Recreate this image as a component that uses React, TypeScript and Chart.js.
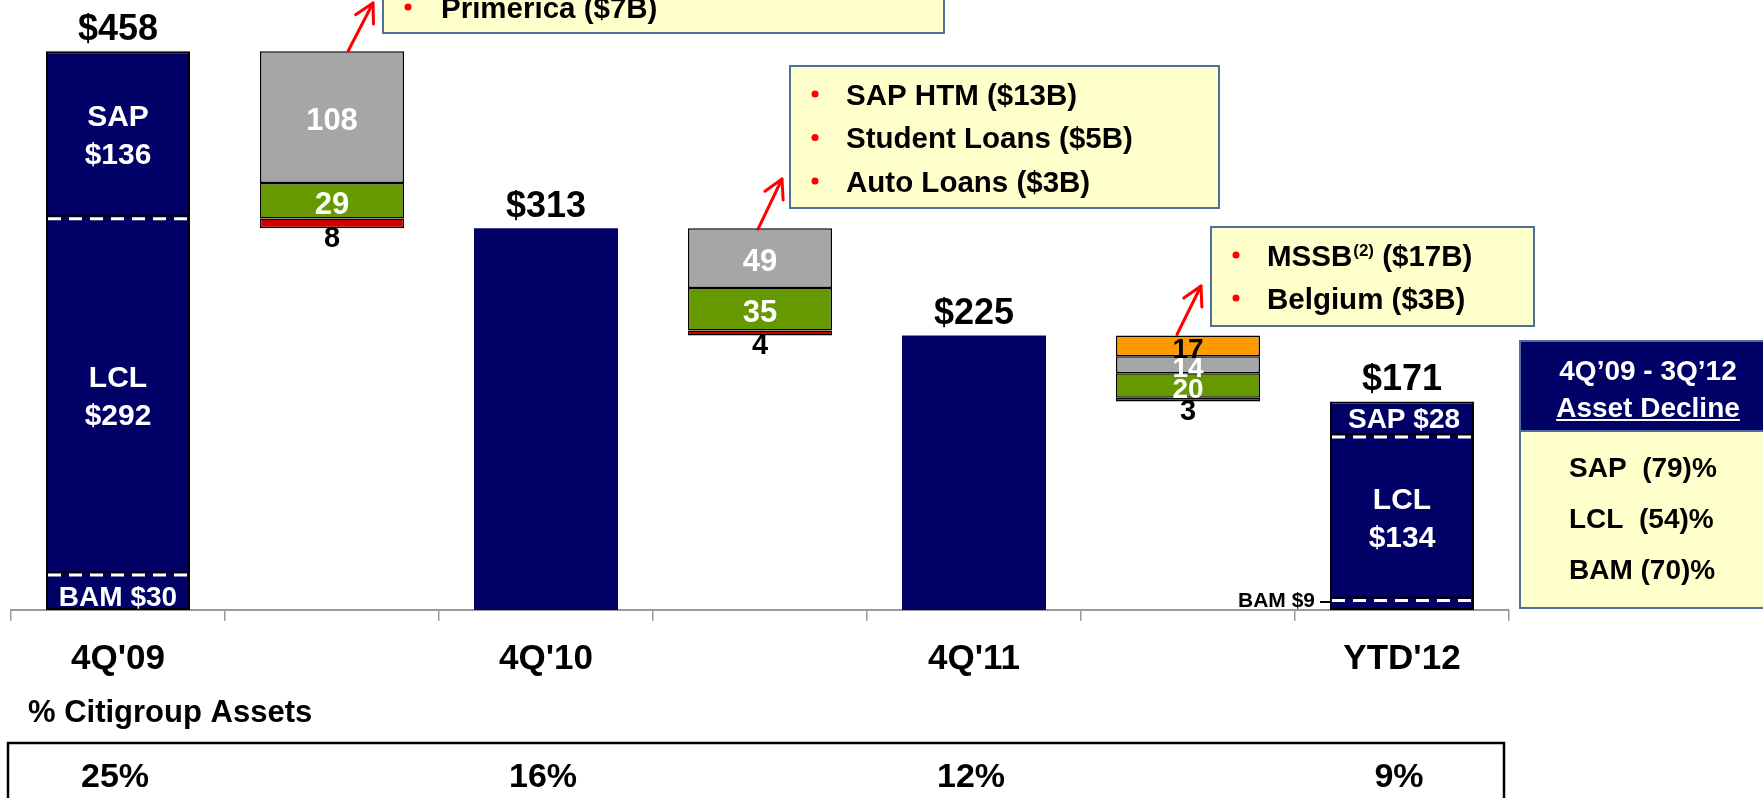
import React, { useEffect, useRef } from "react";
import { Chart, registerables } from "chart.js";

Chart.register(...registerables);

// ---------- data ----------
const categories = ["4Q'09", "", "4Q'10", "", "4Q'11", "", "YTD'12"];
const totals: (number | null)[] = [458, null, 313, null, 225, null, 171];
const sapValues: (number | null)[] = [136, null, null, null, null, null, 28];
const lclValues: (number | null)[] = [292, null, null, null, null, null, 134];
const bamValues: (number | null)[] = [30, null, null, null, null, null, 9];
const declineOrange: (number | null)[] = [null, null, null, null, null, 17, null];
const declineGray: (number | null)[] = [null, 108, null, 49, null, 14, null];
const declineGreen: (number | null)[] = [null, 29, null, 35, null, 20, null];
const declineRed: (number | null)[] = [null, 8, null, 4, null, 3, null];
const citiShareOfAssets: (number | null)[] = [25, null, 16, null, 12, null, 9];
const notes2010a = ["Primerica ($7B)"];
const notes2010b = ["SAP HTM ($13B)", "Student Loans ($5B)", "Auto Loans ($3B)"];
const notes2011 = [
  { main: "MSSB", sup: "(2)", rest: " ($17B)" },
  { main: "Belgium ($3B)", sup: "", rest: "" },
];
const declineTitle = ["4Q\u201909 - 3Q\u201912", "Asset Decline"];
const declineRows = ["SAP  (79)%", "LCL  (54)%", "BAM (70)%"];

// ---------- colours ----------
const NAVY = "#000066";
const GRAY = "#A6A6A6";
const GREEN = "#669900";
const RED = "#CC0000";
const ORANGE = "#FF9900";
const NOTE_BG = "#FFFFCC";
const NOTE_BORDER = "#4F6E9C";
const FONT = '"Liberation Sans", Arial, Helvetica, sans-serif';

const segmentOrder = [declineOrange, declineGray, declineGreen, declineRed];
const segmentColors = [ORANGE, GRAY, GREEN, RED];

function buildRanges() {
  const out = segmentOrder.map(() => categories.map(() => null as null | [number, number]));
  categories.forEach((_, i) => {
    if (declineGray[i] == null) return;
    let top = totals[i - 1] as number;
    segmentOrder.forEach((arr, k) => {
      const v = arr[i];
      if (v == null || v === 0) return;
      out[k][i] = [top - v, top];
      top -= v;
    });
  });
  return out;
}

function txt(ctx: CanvasRenderingContext2D, s: string, x: number, yc: number, size: number, color: string, align: CanvasTextAlign = "center") {
  ctx.font = `bold ${size}px ${FONT}`;
  ctx.fillStyle = color;
  ctx.textAlign = align;
  ctx.textBaseline = "alphabetic";
  ctx.fillText(s, x, yc + size * 0.358);
}

function noteBox(ctx: CanvasRenderingContext2D, x: number, y: number, w: number, h: number) {
  ctx.fillStyle = NOTE_BG;
  ctx.fillRect(x, y, w, h);
  ctx.strokeStyle = NOTE_BORDER;
  ctx.lineWidth = 2;
  ctx.strokeRect(x, y, w, h);
}

function bullet(ctx: CanvasRenderingContext2D, x: number, yc: number) {
  ctx.fillStyle = "#FF0000";
  ctx.beginPath();
  ctx.arc(x, yc, 3.5, 0, Math.PI * 2);
  ctx.fill();
}

function arrow(ctx: CanvasRenderingContext2D, x1: number, y1: number, x2: number, y2: number) {
  ctx.save();
  ctx.strokeStyle = "#FF0000";
  ctx.lineWidth = 3;
  ctx.lineCap = "round";
  ctx.lineJoin = "round";
  ctx.beginPath();
  ctx.moveTo(x1, y1);
  ctx.lineTo(x2, y2);
  ctx.stroke();
  const a = Math.atan2(y2 - y1, x2 - x1);
  const L = 21;
  const sp = 0.5;
  ctx.beginPath();
  ctx.moveTo(x2 - L * Math.cos(a - sp), y2 - L * Math.sin(a - sp));
  ctx.lineTo(x2, y2);
  ctx.lineTo(x2 - L * Math.cos(a + sp), y2 - L * Math.sin(a + sp));
  ctx.stroke();
  ctx.restore();
}

function dashedDivider(ctx: CanvasRenderingContext2D, left: number, w: number, py: number) {
  ctx.save();
  ctx.beginPath();
  ctx.rect(left, 0, w, 800);
  ctx.clip();
  ctx.strokeStyle = "#000";
  ctx.lineWidth = 2;
  ctx.beginPath();
  ctx.moveTo(left, py - 1.5);
  ctx.lineTo(left + w, py - 1.5);
  ctx.stroke();
  ctx.strokeStyle = "#fff";
  ctx.lineWidth = 3;
  ctx.setLineDash([13, 8]);
  ctx.beginPath();
  ctx.moveTo(left + 2, py + 1.5);
  ctx.lineTo(left + w, py + 1.5);
  ctx.stroke();
  ctx.restore();
}

const annotations = {
  id: "annotations",
  afterDraw(chart: any) {
    const ctx: CanvasRenderingContext2D = chart.ctx;
    const xs = chart.scales.x;
    const ys = chart.scales.y;
    const navyMeta = chart.getDatasetMeta(0);
    ctx.save();

    // totals & breakdowns
    totals.forEach((t, i) => {
      if (t == null) return;
      const el = navyMeta.data[i];
      const cx = el.x;
      const w = el.width;
      const left = cx - w / 2;
      const topY = ys.getPixelForValue(t);
      txt(ctx, "$" + t, cx, topY - 24, 36, "#000");
      const sap = sapValues[i];
      const lcl = lclValues[i];
      const bam = bamValues[i];
      if (sap == null || lcl == null || bam == null) return;
      const b1 = ys.getPixelForValue(bam);
      const b2 = ys.getPixelForValue(bam + lcl);
      dashedDivider(ctx, left, w, b1);
      dashedDivider(ctx, left, w, b2);
      const sapC = (b2 + topY) / 2;
      if (b2 - topY > 70) {
        txt(ctx, "SAP", cx, sapC - 19, 30, "#fff");
        txt(ctx, "$" + sap, cx, sapC + 19, 30, "#fff");
      } else {
        txt(ctx, "SAP $" + sap, cx + 2, sapC, 28, "#fff");
      }
      const lclC = (b1 + b2) / 2;
      txt(ctx, "LCL", cx, lclC - 19, 30, "#fff");
      txt(ctx, "$" + lcl, cx, lclC + 19, 30, "#fff");
      const base = ys.getPixelForValue(0);
      if (base - b1 > 30) {
        txt(ctx, "BAM $" + bam, cx, (base + b1) / 2 + 4, 28, "#fff");
      } else {
        txt(ctx, "BAM $" + bam, left - 15, b1, 21, "#000", "right");
        ctx.strokeStyle = "#000";
        ctx.lineWidth = 2;
        ctx.beginPath();
        ctx.moveTo(left - 10, b1 + 3);
        ctx.lineTo(left, b1 + 3);
        ctx.stroke();
      }
    });

    // waterfall labels
    segmentOrder.forEach((arr, k) => {
      arr.forEach((v, i) => {
        if (v == null || v === 0) return;
        const meta = chart.getDatasetMeta(k + 1);
        const el = meta.data[i];
        const r = chart.data.datasets[k + 1].data[i] as [number, number];
        const yTop = ys.getPixelForValue(r[1]);
        const yBot = ys.getPixelForValue(r[0]);
        if (k === 3) {
          txt(ctx, String(v), el.x, yBot + 8, 29, "#000");
        } else {
          const size = yBot - yTop > 30 ? 31 : 28;
          txt(ctx, String(v), el.x, (yTop + yBot) / 2 + 2, size, k === 0 ? "#000" : "#fff");
        }
      });
    });

    // category labels
    categories.forEach((c, i) => {
      if (!c) return;
      txt(ctx, c, xs.getPixelForValue(i), 656, 35, "#000");
    });

    // arrows + notes
    arrow(ctx, 348, ys.getPixelForValue(totals[0] as number), 373, 3);
    arrow(ctx, 758, ys.getPixelForValue(totals[2] as number) + 1, 782, 179);
    arrow(ctx, 1177, ys.getPixelForValue(totals[4] as number) - 1, 1201, 286);

    noteBox(ctx, 383, -40, 561, 73);
    notes2010a.forEach((s, j) => {
      const yc = 7 + j * 44;
      bullet(ctx, 408, yc);
      txt(ctx, s, 441, yc, 29.5, "#000", "left");
    });

    noteBox(ctx, 790, 66, 429, 142);
    notes2010b.forEach((s, j) => {
      const yc = 94 + j * 43.5;
      bullet(ctx, 815, yc);
      txt(ctx, s, 846, yc, 29.5, "#000", "left");
    });

    noteBox(ctx, 1211, 227, 323, 99);
    notes2011.forEach((n, j) => {
      const yc = 255 + j * 43;
      bullet(ctx, 1236, yc);
      let x = 1267;
      txt(ctx, n.main, x, yc, 29.5, "#000", "left");
      ctx.font = `bold 29.5px ${FONT}`;
      x += ctx.measureText(n.main).width + 1;
      if (n.sup) {
        txt(ctx, n.sup, x, yc - 5, 17, "#000", "left");
        ctx.font = `bold 17px ${FONT}`;
        x += ctx.measureText(n.sup).width;
      }
      if (n.rest) txt(ctx, n.rest, x, yc, 29.5, "#000", "left");
    });

    // asset decline box
    ctx.fillStyle = NOTE_BG;
    ctx.fillRect(1520, 341, 260, 267);
    ctx.fillStyle = NAVY;
    ctx.fillRect(1520, 341, 260, 90);
    ctx.strokeStyle = NOTE_BORDER;
    ctx.lineWidth = 2;
    ctx.strokeRect(1520, 341, 260, 267);
    ctx.beginPath();
    ctx.moveTo(1520, 431);
    ctx.lineTo(1780, 431);
    ctx.stroke();
    txt(ctx, declineTitle[0], 1648, 370, 28, "#fff");
    txt(ctx, declineTitle[1], 1648, 407, 28, "#fff");
    ctx.font = `bold 28px ${FONT}`;
    const tw = ctx.measureText(declineTitle[1]).width;
    ctx.strokeStyle = "#fff";
    ctx.lineWidth = 2;
    ctx.beginPath();
    ctx.moveTo(1648 - tw / 2, 420);
    ctx.lineTo(1648 + tw / 2, 420);
    ctx.stroke();
    declineRows.forEach((s, j) => {
      txt(ctx, s, 1569, 467 + j * 51, 28, "#000", "left");
    });

    // % Citigroup Assets
    txt(ctx, "% Citigroup Assets", 28, 711, 31, "#000", "left");
    ctx.strokeStyle = "#000";
    ctx.lineWidth = 2.5;
    ctx.strokeRect(8, 743, 1496, 100);
    citiShareOfAssets.forEach((v, i) => {
      if (v == null) return;
      txt(ctx, v + "%", xs.getPixelForValue(i) - 3, 775, 34, "#000");
    });

    ctx.restore();
  },
};

export default function App() {
  const ref = useRef<HTMLCanvasElement | null>(null);

  useEffect(() => {
    if (!ref.current) return;
    const ranges = buildRanges();
    const navyData = totals.map((t) => (t == null ? null : [0, t]));
    const chart = new Chart(ref.current, {
      type: "bar",
      data: {
        labels: categories,
        datasets: [
          {
            label: "Assets",
            data: navyData as any,
            backgroundColor: NAVY,
            borderColor: "#000",
            borderWidth: totals.map((_, i) => (sapValues[i] != null ? 2 : 0)) as any,
            borderSkipped: false,
            grouped: false,
          } as any,
          ...ranges.map((r, k) => ({
            label: "decline" + k,
            data: r as any,
            backgroundColor: segmentColors[k],
            borderColor: "#000",
            borderWidth: 1.5,
            borderSkipped: false,
            grouped: false,
          })),
        ],
      },
      options: {
        responsive: false,
        animation: false,
        devicePixelRatio: 1,
        layout: { padding: { left: 11, right: 254, top: 0, bottom: 0 } },
        plugins: { legend: { display: false }, tooltip: { enabled: false } },
        datasets: { bar: { categoryPercentage: 1, barPercentage: 0.673, skipNull: true } as any },
        scales: {
          x: {
            type: "category",
            offset: true,
            grid: {
              display: true,
              drawOnChartArea: false,
              drawTicks: true,
              tickLength: 11,
              offset: true,
              color: "#9a9a9a",
              lineWidth: 1.5,
            },
            border: { display: true, color: "#9a9a9a", width: 2 },
            ticks: { display: false },
            afterFit: (s: any) => {
              s.height = 188;
            },
          } as any,
          y: { display: false, min: 0, max: 500 },
        },
      },
      plugins: [annotations],
    });
    return () => chart.destroy();
  }, []);

  return (
    <div style={{ position: "fixed", left: 0, top: 0, width: 1763, height: 798, background: "#fff", overflow: "hidden" }}>
      <canvas ref={ref} width={1763} height={798} style={{ display: "block", width: 1763, height: 798 }} />
    </div>
  );
}
